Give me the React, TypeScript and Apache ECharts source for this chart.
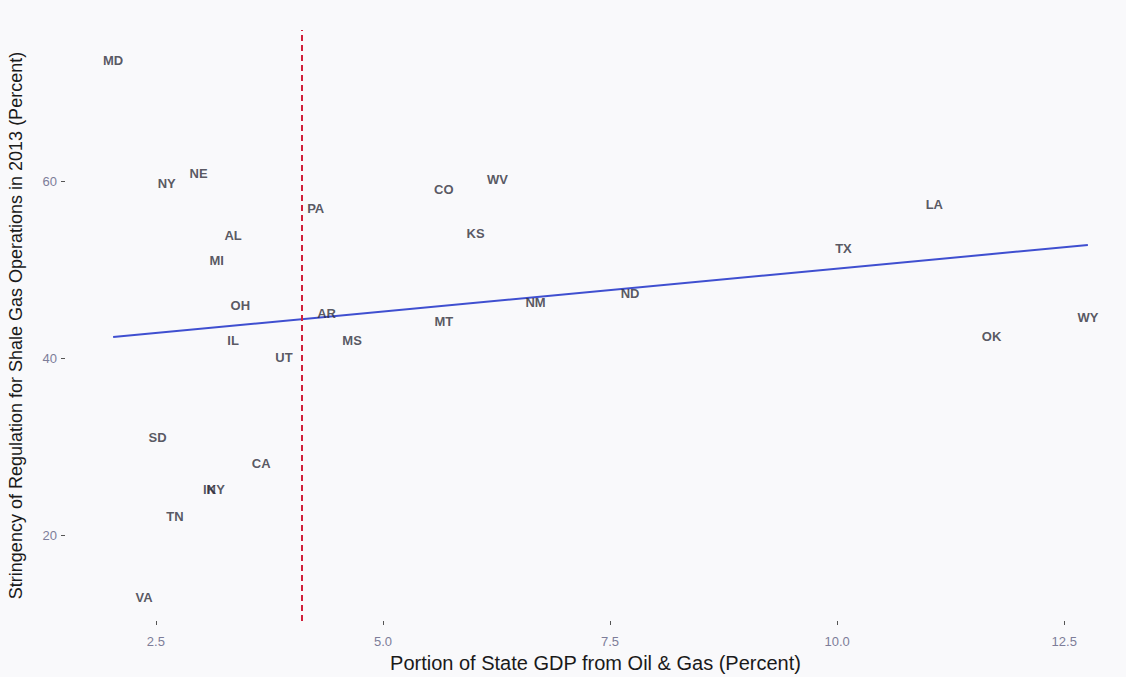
import React, { useEffect, useRef } from "react";
import * as echarts from "echarts";

const states = ["MD","NY","NE","CO","WV","PA","LA","AL","KS","MI","TX","OH","NM","ND","AR","MT","WY","OK","IL","MS","UT","SD","CA","IN","KY","TN","VA"];
const gdpShare = [2.03,2.62,2.97,5.67,6.26,4.26,11.07,3.35,6.02,3.17,10.07,3.43,6.68,7.72,4.38,5.67,12.76,11.70,3.35,4.66,3.91,2.52,3.66,3.09,3.16,2.71,2.37];
const stringency = [73.7,59.8,60.9,59.1,60.2,56.9,57.4,53.9,54.1,51.0,52.4,46.0,46.3,47.3,45.1,44.2,44.6,42.5,42.0,42.0,40.1,31.0,28.1,25.2,25.2,22.1,13.0];
const fitX = [2.03, 12.76];
const fitY = [42.4, 52.8];
const thresholdX = 4.11;
const xTicks = [2.5, 5, 7.5, 10, 12.5];
const yTicks = [20, 40, 60];

export default function App() {
  const ref = useRef<HTMLDivElement>(null);
  useEffect(() => {
    document.body.style.margin = "0";
    const chart = echarts.init(ref.current!, null, { renderer: "svg" });
    const tickLabel = { color: "#7d7d99", fontSize: 13, fontFamily: "Liberation Sans Narrow, Liberation Sans, Arial" };
    chart.setOption({
      animation: false,
      backgroundColor: "#f9f9fb",
      grid: { left: 65, right: 0, top: 30, bottom: 56, containLabel: false, outerBoundsMode: "none" },
      xAxis: {
        type: "value",
        min: 1.5,
        max: 13.18,
        name: "Portion of State GDP from Oil & Gas (Percent)",
        nameLocation: "middle",
        nameGap: 32,
        nameTextStyle: { color: "#1a1a1a", fontSize: 20, fontFamily: "Liberation Sans, Arial" },
        axisLine: { show: false },
        splitLine: { show: false },
        axisTick: { show: true, length: 4, lineStyle: { color: "#555" }, customValues: xTicks },
        axisLabel: { ...tickLabel, margin: 14, customValues: xTicks, formatter: (v: number) => v.toFixed(1) },
      },
      yAxis: {
        type: "value",
        min: 10.3,
        max: 77.1,
        name: "Stringency of Regulation for Shale Gas Operations in 2013 (Percent)",
        nameLocation: "middle",
        nameGap: 40,
        nameTextStyle: { color: "#1a1a1a", fontSize: 18, fontFamily: "Liberation Sans, Arial" },
        axisLine: { show: false },
        splitLine: { show: false },
        axisTick: { show: true, length: 4, lineStyle: { color: "#555" }, customValues: yTicks },
        axisLabel: { ...tickLabel, margin: 8, customValues: yTicks },
      },
      series: [
        {
          type: "line",
          data: fitX.map((x, i) => [x, fitY[i]]),
          symbol: "none",
          lineStyle: { color: "#3f4fd0", width: 2 },
          z: 2,
        },
        {
          type: "line",
          data: [],
          markLine: {
            silent: true,
            symbol: "none",
            label: { show: false },
            lineStyle: { color: "#d0203a", type: [6, 4], width: 2 },
            data: [{ xAxis: thresholdX }],
          },
        },
        {
          type: "scatter",
          symbolSize: 0,
          data: states.map((s, i) => ({ name: s, value: [gdpShare[i], stringency[i]] })),
          label: {
            show: true,
            position: "inside",
            formatter: (p: any) => p.name,
            color: "#2e2e3a",
            fontSize: 13,
            fontWeight: "bold",
            fontFamily: "Liberation Sans, Arial",
          },
          z: 3,
        },
      ],
    });
    return () => chart.dispose();
  }, []);
  return <div ref={ref} style={{ width: 1126, height: 677 }} />;
}
